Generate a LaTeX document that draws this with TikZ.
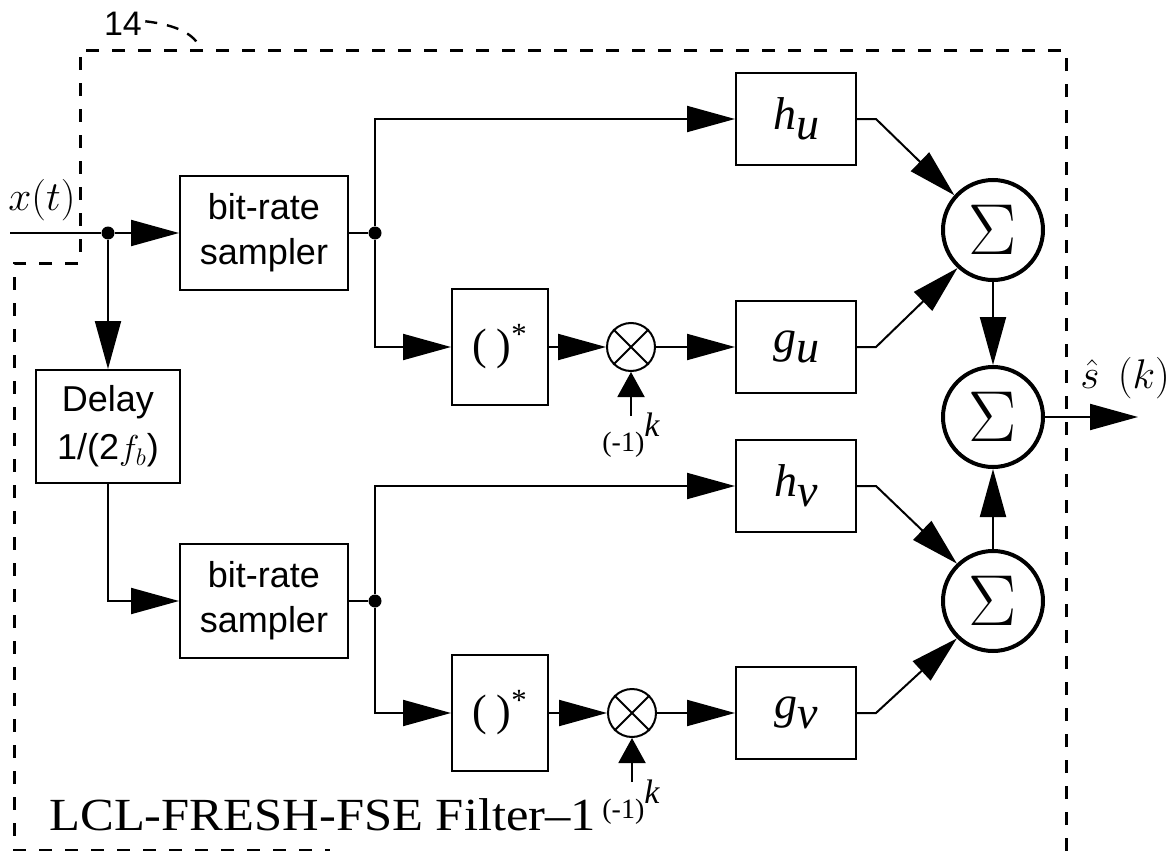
\documentclass[tikz,border=0pt]{standalone}
\usepackage{fontspec}
\usepackage{graphicx}
\setmainfont{Liberation Serif}
\setsansfont{Liberation Sans}
\usetikzlibrary{arrows.meta}
\tikzset{
  blk/.style={draw, line width=1pt, inner sep=0pt, minimum width=60pt, minimum height=46pt},
  smp/.style={blk, minimum width=84pt, minimum height=57pt, align=center, font=\sffamily\fontsize{18}{22.5}\selectfont},
  cj/.style={blk, minimum width=48pt, minimum height=58pt, font=\fontsize{22}{22}\selectfont},
  flt/.style={blk, font=\fontsize{23}{23}\selectfont\itshape},
  sig/.style={draw, circle, line width=2pt, inner sep=0pt, minimum size=50pt, font=\fontsize{24}{24}\selectfont},
  mul/.style={draw, circle, line width=1pt, inner sep=0pt, minimum size=24pt},
  jn/.style={circle, fill, inner sep=0pt, minimum size=6.5pt},
  wire/.style={line width=1pt},
  arr/.style={wire, -{Triangle[length=24pt,width=13pt]}},
  sarr/.style={wire, -{Triangle[length=12.5pt,width=13.5pt]}},
  dsh/.style={line width=1.5pt, dash pattern=on 6.5pt off 6.5pt},
  lbl/.style={inner sep=0pt},
}
\newcommand{\mlab}{(-1)\raisebox{7.5pt}{\fontsize{17}{17}\selectfont\itshape k}}
\newcommand{\fl}[2]{#1\raisebox{-5pt}{#2}}
\newcommand{\bigsig}{\scalebox{1.45}{$\Sigma$}}
\begin{document}
\begin{tikzpicture}[x=0.5pt,y=-0.5pt]
\useasboundingbox (0,0) rectangle (1174,851);
% boundary
\draw[dsh] (1066,851) -- (1066,50) -- (80,50) -- (80,263) -- (14,263) -- (14,850) -- (330,850);
\node[lbl, anchor=base, font=\sffamily\fontsize{17}{17}\selectfont] (n14) at (123,35) {14};
\draw[line width=1.2pt, dash pattern=on 6pt off 5pt] (n14.east) ++(3,-2) .. controls (178,25) and (195,35) .. (200,48);
% nodes
\coordinate (in) at (10,233);
\node[jn] (d1) at (108,233) {};
\node[smp] (s1) at (264,233) {bit-rate\\sampler};
\node[smp, minimum width=72pt, minimum height=56.5pt, font=\sffamily\fontsize{18}{24}\selectfont] (dl) at (108,426.5) {Delay\\1/(2$f_b$)};
\node[smp] (s2) at (264,601) {bit-rate\\sampler};
\node[jn] (d2) at (375,233) {};
\node[jn] (d3) at (375,601) {};
\node[cj] (cu) at (500,347) {(\hspace{5pt})\textsuperscript{*}};
\node[cj] (cv) at (500,713) {(\hspace{5pt})\textsuperscript{*}};
\node[mul] (mu) at (631,347) {};
\node[mul] (mv) at (632,713) {};
\draw[wire] (mu.45) -- (mu.225) (mu.135) -- (mu.315);
\draw[wire] (mv.45) -- (mv.225) (mv.135) -- (mv.315);
\node[flt] (hu) at (796,119) {\fl{h}{u}};
\node[flt] (gu) at (796,347) {\fl{g}{u}};
\node[flt] (hv) at (796,486) {\fl{h}{v}};
\node[flt] (gv) at (796,713) {\fl{g}{v}};
\node[sig] (su) at (993,230) {\bigsig};
\node[sig] (sm) at (993,417) {\bigsig};
\node[sig] (sv) at (993,601) {\bigsig};
\coordinate (out) at (1138,417);
\coordinate (ku) at (631,416);
\coordinate (kv) at (632,782);
% labels
\node[lbl, anchor=base west, font=\fontsize{20}{20}\selectfont] (xt) at (8,210) {$x(t)$};
\node[lbl, anchor=base west, font=\fontsize{20}{20}\selectfont] (sk) at (1080,388) {$\hat{s}\;\,(k)$};
\node[lbl, anchor=base west, font=\fontsize{14}{14}\selectfont] (lu) at (602,451) {\mlab};
\node[lbl, anchor=base west, font=\fontsize{14}{14}\selectfont] (lv) at (602,818) {\mlab};
\node[lbl, anchor=base west, font=\fontsize{23}{23}\selectfont] (title) at (49,830) {\scalebox{1.1}[1]{LCL-FRESH-FSE Filter–1}};
% connectors
\draw[wire] (in) -- (d1);
\draw[arr] (d1) -- (s1);
\draw[arr] (d1) -- (dl);
\draw[arr] (dl) |- (s2);
\draw[wire] (s1) -- (d2);
\draw[wire] (s2) -- (d3);
\draw[arr] (d2) |- (hu);
\draw[arr] (d2) |- (cu);
\draw[arr] (d3) |- (hv);
\draw[arr] (d3) |- (cv);
\draw[arr] (cu) -- (mu);
\draw[arr] (cv) -- (mv);
\draw[arr] (mu) -- (gu);
\draw[arr] (mv) -- (gv);
\draw[sarr] (ku) -- (mu);
\draw[sarr] (kv) -- (mv);
\draw[arr] (hu.east) -- ++(19,0) -- (su.138);
\draw[arr] (gu.east) -- ++(19,0) -- (su.227);
\draw[arr] (hv.east) -- ++(19,0) -- (sv.134);
\draw[arr] (gv.east) -- ++(19,0) -- (sv.226);
\draw[arr] (su) -- (sm);
\draw[arr] (sv) -- (sm);
\draw[arr] (sm) -- (out);
\end{tikzpicture}
\end{document}
